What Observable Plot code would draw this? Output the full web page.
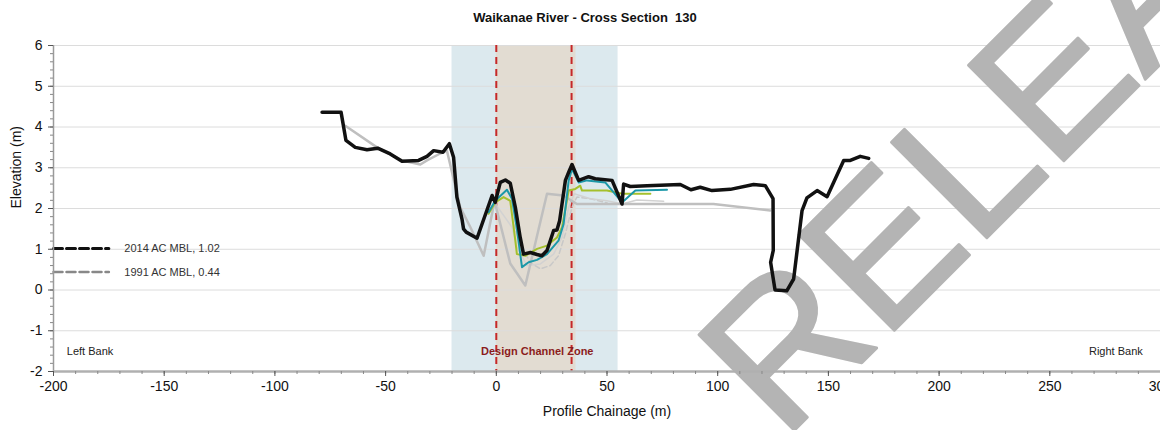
<!DOCTYPE html>
<html><head><meta charset="utf-8">
<script src="https://cdn.jsdelivr.net/npm/d3@7"></script>
<script src="https://cdn.jsdelivr.net/npm/@observablehq/plot@0.6"></script>
<style>
body{margin:0;background:#fff;font-family:"Liberation Sans",Arial,sans-serif;}
#title{height:30px;line-height:36px;text-align:center;font-weight:bold;font-size:13px;white-space:pre;color:#111;padding-left:10px;box-sizing:border-box;width:1160px}
</style></head><body>
<div id="title"></div>
<div id="chart"></div>
<script>
const titleText = "Waikanae River - Cross Section  130";

// Survey profiles (chainage m, elevation m)
const blackX = [-78.7,-70.1,-67.9,-63.7,-58.4,-53.6,-47.9,-42.6,-35.1,-31.3,-28.3,-24.1,-21.2,-19.3,-17.8,-15.5,-14.8,-13.6,-8.7,-1.9,-0.5,1.8,4.1,6.3,8.6,10.8,12.3,15.4,18.4,20.6,22.9,25.9,27.4,28.6,31.2,32.7,34.2,37.2,41.7,44.7,52.3,56.8,57.5,60.5,68.1,83.1,87.9,92.1,97.4,105.7,116.2,121.5,125.0,125.1,123.9,125.9,131.2,134.3,138.1,140.3,144.9,149.4,156.9,159.9,164.4,168.2];
const blackY = [4.36,4.36,3.67,3.50,3.44,3.48,3.34,3.16,3.18,3.28,3.42,3.38,3.59,3.26,2.28,1.74,1.50,1.42,1.27,2.32,2.15,2.64,2.70,2.62,2.03,1.29,0.88,0.92,0.87,0.84,0.97,1.46,1.47,1.70,2.69,2.89,3.08,2.69,2.78,2.73,2.69,2.11,2.60,2.54,2.56,2.59,2.46,2.52,2.44,2.47,2.59,2.56,2.24,0.97,0.68,0.0,-0.02,0.27,1.95,2.26,2.44,2.29,3.18,3.18,3.28,3.23];

const grayX = [-68.2,-53.9,-42.6,-34.3,-31.3,-25.3,-22.3,-16.3,-11.7,-5.7,-1.2,-0.5,6.3,13.1,22.9,30.3,36.4,98.1,123.7];
const grayY = [4.03,3.50,3.18,3.08,3.18,3.35,3.42,2.03,1.54,0.84,2.07,2.12,0.65,0.11,2.36,2.32,2.11,2.11,1.95];

const tealX = [-3.5,-0.5,4.8,7.1,9.3,11.6,14.6,18.4,22.9,28.1,30.4,32.7,34.2,37.2,41.0,49.2,56.8,62.8,77.1];
const tealY = [1.91,2.19,2.46,2.24,1.50,0.56,0.68,0.74,0.88,1.21,1.62,2.69,2.97,2.64,2.69,2.64,2.15,2.44,2.46];

const greenX = [-3.5,-0.5,3.3,6.3,8.6,9.3,13.1,18.4,22.9,27.4,29.7,32.7,35.7,37.9,38.7,50.0,56.8,69.6];
const greenY = [1.87,2.15,2.28,2.19,1.21,0.88,0.84,1.01,1.09,1.29,1.54,2.44,2.48,2.56,2.44,2.44,2.36,2.36];

const lightX = [-0.5,7.1,9.3,13.9,19.9,25.9,29.7,32.7,35.2,42.5,50.0,56.8,63.5,75.6];
const lightY = [2.12,1.54,1.05,0.60,0.64,0.88,1.29,2.03,2.36,2.24,2.19,2.11,2.21,2.18];

const dashX = [7.8,10.8,15.4,19.9,24.4,28.1,31.2,34.2,36.4,42.5,50.0];
const dashY = [1.62,1.13,0.67,0.52,0.60,0.84,1.38,2.03,2.28,2.24,2.14];

// Mean bed level markers
const mblLabels = ["2014 AC MBL, 1.02", "1991 AC MBL, 0.44"];
const mblValues = [1.02, 0.44];
const mblColors = ["#111111", "#888888"];
const mblStart = -200, mblEnd = -175, mblTextX = -168;

// Zones
const zoneX1 = [-20, 0];
const zoneX2 = [55, 36];
const zoneFill = ["#dce9ee", "#e2dcd2"];
const designLines = [0, 34];

// Axis ticks
const xTicks = d3.range(-200, 301, 50);
const xMinor = d3.range(-200, 301, 10);
const yTicks = d3.range(-2, 7, 1);
const yMinor = d3.range(-2, 6.01, 0.2).map(v => +v.toFixed(1));
const gridY = d3.range(-1, 7, 1);

const bankLabels = [{x: -194, y: -1.5, text: "Left Bank"}, {x: 292, y: -1.5, text: "Right Bank"}];
const zoneLabel = [{x: 18.5, y: -1.5, text: "Design Channel Zone"}];
const watermark = [{x: 129.5, y: -3.72, text: "RELEASED UNDER THE OFFICIAL INFORMATION ACT"}];

const toPts = (xs, ys) => xs.map((x, i) => ({x, y: ys[i]}));
const zones = zoneX1.map((x1, i) => ({x1, x2: zoneX2[i], fill: zoneFill[i]}));
const mbl = mblValues.flatMap((v, i) => [{x: mblStart, y: v, k: i}, {x: mblEnd, y: v, k: i}]);

document.getElementById("title").textContent = titleText;

const chart = Plot.plot({
  width: 1160, height: 400,
  marginLeft: 53, marginRight: 0, marginTop: 15, marginBottom: 59,
  style: {fontFamily: "Liberation Sans, Arial, sans-serif", overflow: "visible", background: "transparent", color: "#111"},
  x: {domain: [-200, 300], label: null},
  y: {domain: [-2, 6], label: null},
  marks: [
    Plot.rect(zones, {x1: "x1", x2: "x2", fill: "fill"}),
    Plot.gridY(gridY, {stroke: "#dcdcdc", strokeOpacity: 1, strokeWidth: 1}),
    Plot.ruleX(designLines, {stroke: "#c62828", strokeWidth: 2, strokeDasharray: "7,5"}),
    Plot.text(watermark, {x: "x", y: "y", text: "text", rotate: -45, fontSize: 196, fill: "#b4b4b4", stroke: "#b4b4b4", strokeWidth: 3, textAnchor: "start", lineAnchor: "bottom"}),
    Plot.line(toPts(dashX, dashY), {x: "x", y: "y", stroke: "#c8c8c8", strokeWidth: 1.5, strokeDasharray: "5,3"}),
    Plot.line(toPts(lightX, lightY), {x: "x", y: "y", stroke: "#d2d2d2", strokeWidth: 1.5}),
    Plot.line(toPts(grayX, grayY), {x: "x", y: "y", stroke: "#bfbfbf", strokeWidth: 2.5}),
    Plot.line(toPts(greenX, greenY), {x: "x", y: "y", stroke: "#a5c02c", strokeWidth: 2}),
    Plot.line(toPts(tealX, tealY), {x: "x", y: "y", stroke: "#1b98a8", strokeWidth: 2}),
    Plot.line(toPts(blackX, blackY), {x: "x", y: "y", stroke: "#111", strokeWidth: 3.5, strokeLinejoin: "round"}),
    Plot.line(mbl, {x: "x", y: "y", z: "k", stroke: d => mblColors[d.k], strokeWidth: d => d.k === 0 ? 3 : 2.5, strokeDasharray: "9,4"}),
    Plot.text(mblValues.map((v, i) => ({x: mblTextX, y: v, t: mblLabels[i]})), {x: "x", y: "y", text: "t", textAnchor: "start", fontSize: 11, fill: "#333"}),
    Plot.text(bankLabels.slice(0, 1), {x: "x", y: "y", text: "text", textAnchor: "start", fontSize: 11, fill: "#222"}),
    Plot.text(bankLabels.slice(1), {x: "x", y: "y", text: "text", textAnchor: "end", fontSize: 11, fill: "#222"}),
    Plot.text(zoneLabel, {x: "x", y: "y", text: "text", textAnchor: "middle", fontSize: 11, fontWeight: "bold", fill: "#8b1c1c"}),
    Plot.ruleX([-200], {stroke: "#9a9a9a", strokeWidth: 1.5}),
    Plot.ruleY([-2], {stroke: "#b0b0b0", strokeWidth: 2.5}),
    Plot.axisX({ticks: xMinor, tickSize: 3, tickFormat: () => "", stroke: "#888", label: null}),
    Plot.axisX({ticks: xTicks, tickSize: 5, tickPadding: 5, tickFormat: d => String(d), fontSize: 14, stroke: "#555", fill: "#111", label: null}),
    Plot.axisY({ticks: yMinor, tickSize: 3, tickFormat: () => "", stroke: "#888", label: null}),
    Plot.axisY({ticks: yTicks, tickSize: 5, tickPadding: 6, tickFormat: d => String(d), fontSize: 14, stroke: "#555", fill: "#111", label: null}),
    Plot.text(["Profile Chainage (m)"], {frameAnchor: "bottom", dy: 40, fontSize: 14, fill: "#111", lineAnchor: "middle"}),
    Plot.text(["Elevation (m)"], {frameAnchor: "left", dx: -37, rotate: -90, fontSize: 14, fill: "#111"})
  ]
});
document.getElementById("chart").appendChild(chart);
</script></body></html>
